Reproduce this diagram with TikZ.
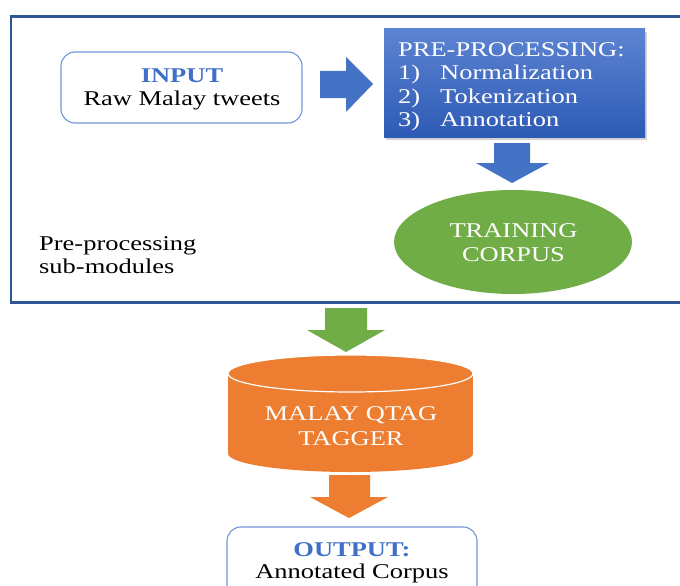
\documentclass[tikz,border=0pt]{standalone}
\usepackage{fontspec}
\setmainfont{Liberation Serif}[FakeStretch=1.26]
\usetikzlibrary{shadows}
\definecolor{officeblue}{HTML}{4472C4}
\definecolor{boxtop}{HTML}{5D84D2}
\definecolor{boxbot}{HTML}{2D5AB5}
\definecolor{framecol}{HTML}{2F5597}
\definecolor{leaf}{HTML}{70AD47}
\definecolor{tangerine}{HTML}{ED7D31}
\definecolor{inktext}{HTML}{3F6FC6}
\definecolor{rimblue}{HTML}{6F97DA}

\begin{document}
\begin{tikzpicture}[x=1pt,y=-1pt,
  txt/.style={inner sep=0pt, font=\fontsize{21}{24}\selectfont},
  boldtxt/.style={txt, font=\fontsize{21}{24}\selectfont\bfseries, text=inktext},
  roundbox/.style={draw=rimblue, line width=1.1pt, rounded corners=14pt, inner sep=0pt}]
\useasboundingbox (0,0) rectangle (680,586);
\clip (0,0) rectangle (680,586);
\fill[white] (0,0) rectangle (680,586);

% module frame (right side runs off the page)
\draw[framecol, line width=2.6pt] (11,16.5) rectangle (720,302.5);

% input box
\node[roundbox, minimum width=241pt, minimum height=71pt] (input) at (181.5,87.5) {};
\node[boldtxt, anchor=base] (inputhead) at (182,82.3) {INPUT};
\node[txt, anchor=base] (inputbody) at (182,105) {Raw Malay tweets};

% arrow input -> pre-processing
\fill[officeblue] (320,71) -- (346,71) -- (346,57) -- (373,84) -- (346,112) -- (346,98) -- (320,98) -- cycle;

% pre-processing box
\node[minimum width=261pt, minimum height=108pt, inner sep=0pt,
      top color=boxtop, bottom color=boxbot,
      drop shadow={shadow xshift=2pt, shadow yshift=-3pt, opacity=0.35}] (prep) at (514.5,83) {};
\node[txt, text=white, anchor=base west] (prephead) at (398,57) {PRE-PROCESSING:};
\node[txt, text=white, anchor=base west] (n1) at (398,80) {1)};
\node[txt, text=white, anchor=base west] (s1) at (440,80) {Normalization};
\node[txt, text=white, anchor=base west] (n2) at (398,103) {2)};
\node[txt, text=white, anchor=base west] (s2) at (440,103) {Tokenization};
\node[txt, text=white, anchor=base west] (n3) at (398,126) {3)};
\node[txt, text=white, anchor=base west] (s3) at (440,126) {Annotation};

% arrow pre-processing -> corpus
\fill[officeblue] (494,143) -- (530,143) -- (530,163) -- (549,163) -- (512,183) -- (476,163) -- (494,163) -- cycle;

% training corpus
\fill[leaf] (513,242) ellipse [x radius=119pt, y radius=52pt];
\node[txt, text=white, anchor=base] (corpus1) at (513.5,237) {TRAINING};
\node[txt, text=white, anchor=base] (corpus2) at (513.5,261) {CORPUS};

% caption inside frame
\node[txt, anchor=base west] (cap1) at (39,250) {Pre-processing};
\node[txt, anchor=base west] (cap2) at (39,273) {sub-modules};

% arrow frame -> tagger
\fill[leaf] (325,308) -- (367,308) -- (367,330) -- (385,330) -- (346,352) -- (307,330) -- (325,330) -- cycle;

% tagger cylinder
\fill[tangerine] (228,373.5) rectangle (473,453.5);
\fill[tangerine] (350.5,453.5) ellipse [x radius=122.5pt, y radius=18.5pt];
\fill[tangerine] (350.5,373.5) ellipse [x radius=122.5pt, y radius=18.5pt];
\draw[white, line width=1.2pt] (350.5,373.5) ellipse [x radius=122.5pt, y radius=18.5pt];
\node[txt, text=white, anchor=base] (tag1) at (351,420.7) {MALAY QTAG};
\node[txt, text=white, anchor=base] (tag2) at (351,445.7) {TAGGER};

% arrow tagger -> output
\fill[tangerine] (329,475) -- (370,475) -- (370,497) -- (388,497) -- (349,518) -- (310,497) -- (329,497) -- cycle;

% output box (lower edge runs off the page)
\node[roundbox, minimum width=250pt, minimum height=93pt] (output) at (352,573.5) {};
\node[boldtxt, anchor=base] (outhead) at (352,556.7) {OUTPUT:};
\node[txt, anchor=base] (outbody) at (352,578) {Annotated Corpus};
\end{tikzpicture}
\end{document}
